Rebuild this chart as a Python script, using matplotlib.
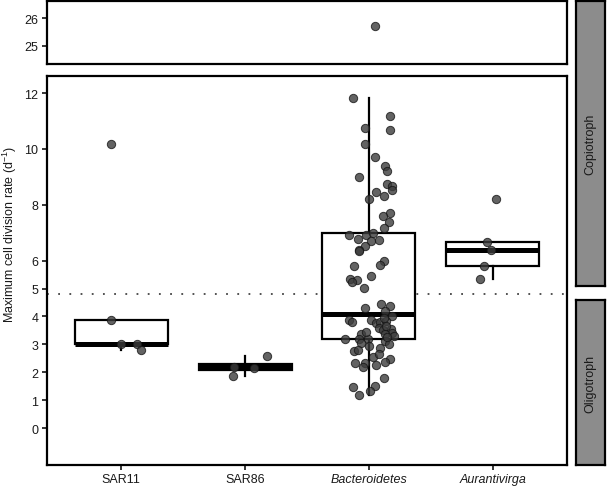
import matplotlib
matplotlib.use("Agg")
import matplotlib.pyplot as plt

plt.rcParams['font.family'] = ['Liberation Sans', 'DejaVu Sans']
plt.rcParams['mathtext.fontset'] = 'custom'
plt.rcParams['mathtext.rm'] = 'Liberation Sans'
plt.rcParams['mathtext.it'] = 'Liberation Sans:italic'

# ---------------- data ----------------
categories = ["SAR11", "SAR86", "Bacteroidetes", "Aurantivirga"]
italic_cats = [False, False, True, True]

sar11 = [10.18, 3.89, 3.0, 3.0, 2.79]
sar11_jit = [-0.08, -0.08, 0.0, 0.13, 0.16]

sar86 = [1.87, 2.20, 2.16, 2.60]
sar86_jit = [-0.10, -0.09, 0.07, 0.18]

bacteroidetes = [
    11.83, 11.18, 10.76, 10.68, 10.18, 9.70, 9.37, 9.20, 9.01,
    8.75, 8.68, 8.54, 8.46, 8.30, 8.20, 7.70, 7.61, 7.38, 7.17,
    6.92, 6.77, 6.92, 6.99, 6.71, 6.75, 6.51, 6.37, 6.35,
    6.00, 5.85, 5.79, 5.44, 5.35, 5.29, 5.22, 5.02,
    4.43, 4.37, 4.31, 4.19, 4.01, 3.89, 3.80, 3.89, 3.77, 3.80, 3.83,
    3.60, 3.50, 3.56, 3.42, 3.30, 3.36, 3.36, 3.20, 3.18, 3.20, 3.06, 3.12,
    2.94, 2.86, 2.76, 2.79, 2.56, 2.64, 2.46, 2.37, 2.35, 2.35, 2.20, 2.25,
    1.81, 1.48, 1.51, 1.18, 1.33,
    3.00, 3.25, 3.45, 3.65, 3.95,
    25.72,
]
bacteroidetes_jit = [
    -0.13, 0.17, -0.03, 0.17, -0.03, 0.05, 0.13, 0.15, -0.08,
    0.15, 0.19, 0.19, 0.06, 0.12, 0.00, 0.17, 0.11, 0.16, 0.12,
    -0.16, -0.09, -0.02, 0.03, 0.02, 0.08, -0.03, -0.08, -0.08,
    0.12, 0.09, -0.12, 0.02, -0.15, -0.10, -0.14, -0.04,
    0.10, 0.17, -0.03, 0.13, 0.19, -0.16, -0.14, 0.02, 0.06, 0.09, 0.14,
    0.08, 0.11, 0.18, 0.19, 0.20, 0.13, -0.06, -0.08, -0.19, -0.01, -0.06, 0.13,
    0.00, 0.09, -0.12, -0.09, 0.03, 0.08, 0.17, 0.13, -0.11, -0.03, -0.05, 0.06,
    0.12, -0.13, 0.05, -0.08, 0.01,
    0.16, 0.15, -0.02, 0.14, 0.12,
    0.05,
]

aurantivirga = [8.19, 6.68, 6.38, 5.79, 5.35]
aurantivirga_jit = [0.03, -0.05, -0.01, -0.07, -0.10]

series = [sar11, sar86, bacteroidetes, aurantivirga]
jitters = [sar11_jit, sar86_jit, bacteroidetes_jit, aurantivirga_jit]

threshold = 4.8
main_ticks = [0, 1, 2, 3, 4, 5, 6, 8, 10, 12]
top_ticks = [25, 26]
strip_labels = ["Copiotroph", "Oligotroph"]
ylabel = r"Maximum cell division rate (d$^{-1}$)"

# ---------------- layout ----------------
W, H = 607, 489
fig = plt.figure(figsize=(W / 100, H / 100), dpi=100)

def fax(x0, y0, x1, y1):
    return [x0 / W, 1 - y1 / H, (x1 - x0) / W, (y1 - y0) / H]

ax_top = fig.add_axes(fax(47, 2, 567, 65))
ax = fig.add_axes(fax(47, 77, 567, 466))

txt_color = '#1a1a1a'
pt_face = '#3c3c3c'

for a in (ax, ax_top):
    for s in a.spines.values():
        s.set_linewidth(1.6)
        s.set_color('black')
    a.tick_params(axis='both', length=3.6, width=1.1, color='black',
                  labelsize=9, labelcolor=txt_color, pad=2.5)
    a.set_xlim(0.4, 4.6)
    a.set_facecolor('white')

positions = list(range(1, len(categories) + 1))
for a in (ax, ax_top):
    a.boxplot(series, positions=positions, widths=0.75, whis=1.5,
              showfliers=False, showcaps=False, patch_artist=True,
              boxprops=dict(facecolor='white', edgecolor='black', linewidth=1.6),
              medianprops=dict(color='black', linewidth=3.6, solid_capstyle='butt'),
              whiskerprops=dict(color='black', linewidth=1.6),
              zorder=2)
    for p, vals, jit in zip(positions, series, jitters):
        xs = [p + j for j in jit]
        a.scatter(xs, vals, s=36, facecolor=pt_face, edgecolor='#151515',
                  linewidth=0.7, alpha=0.8, zorder=3)

ax.axhline(threshold, color='#444444', linewidth=1.3,
           linestyle=(0, (1.0, 5.2)), zorder=1)

ax.set_ylim(-1.32, 12.61)
ax.set_yticks(main_ticks)
ax.set_yticklabels([str(t) for t in main_ticks])
ax.set_xticks(positions)
ax.set_xticklabels(categories)
for lab, it in zip(ax.get_xticklabels(), italic_cats):
    if it:
        lab.set_fontstyle('italic')

ax_top.set_ylim(24.35, 26.61)
ax_top.set_yticks(top_ticks)
ax_top.set_xticks([])

fig.text(10 / W, 1 - 234 / H, ylabel, rotation=90, ha='center', va='center',
         fontsize=9, color=txt_color)

# strips
def strip(y0, y1, label):
    sa = fig.add_axes(fax(576, y0, 605, y1))
    sa.set_facecolor('#8c8c8c')
    sa.set_xticks([])
    sa.set_yticks([])
    for s in sa.spines.values():
        s.set_linewidth(1.6)
        s.set_color('black')
    sa.text(0.5, 0.5, label, rotation=90, ha='center', va='center',
            fontsize=9, color=txt_color, transform=sa.transAxes)

strip(2, 287, strip_labels[0])
strip(301, 466, strip_labels[1])

fig.savefig("out.png", dpi=100)
